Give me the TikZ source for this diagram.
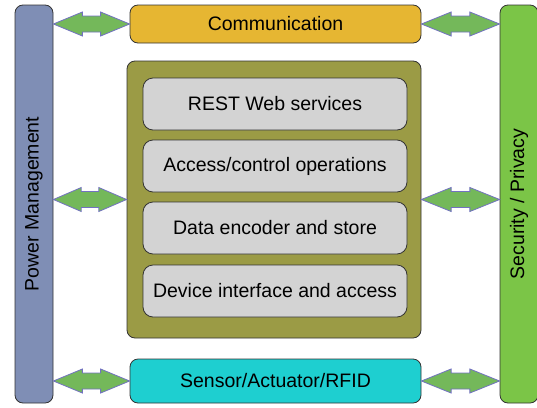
\documentclass[tikz,border=0pt]{standalone}
\usepackage{fontspec}
\setmainfont{Liberation Sans}
\usepackage{xcolor}
\usetikzlibrary{calc}

\definecolor{powerblue}{HTML}{7F8EB5}
\definecolor{commgold}{HTML}{E6B632}
\definecolor{coreolive}{HTML}{9B9B45}
\definecolor{layergray}{HTML}{D3D3D3}
\definecolor{securegreen}{HTML}{7BC547}
\definecolor{sensorcyan}{HTML}{1ECFD0}
\definecolor{linkfill}{HTML}{74B85A}
\definecolor{linkedge}{HTML}{7272C0}

% double headed link between two points at the same height
\newcommand{\linkarrow}[2]{%
  \path[linkarr] let \p1=(#1), \p2=(#2), \n1={0.38*(\x2-\x1)} in
    (\p1) -- (\x1+\n1,\y1+12pt) -- (\x1+\n1,\y1+8pt) -- (\x2-\n1,\y1+8pt)
    -- (\x2-\n1,\y1+12pt) -- (\p2) -- (\x2-\n1,\y1-12pt) -- (\x2-\n1,\y1-8pt)
    -- (\x1+\n1,\y1-8pt) -- (\x1+\n1,\y1-12pt) -- cycle;}

\begin{document}
\begin{tikzpicture}[x=1pt, y=-1pt,
    box/.style={draw=black!80, line width=0.8pt, rounded corners=8pt, inner sep=0pt},
    layer/.style={box, fill=layergray, rounded corners=10pt,
      minimum width=264, minimum height=52},
    label/.style={font=\fontsize{19.5}{23}\selectfont},
    linkarr/.style={fill=linkfill, draw=linkedge, line width=0.8pt, line join=miter}]
    \useasboundingbox (0,0) rectangle (537,407);

    % Side bars
    \node[box, fill=powerblue, minimum width=38, minimum height=398] (pm) at (34,204) {};
    \node[label, rotate=90] (pmtext) at (pm.center) {Power Management};
    \node[box, fill=securegreen, minimum width=38, minimum height=398] (sp) at (519,204) {};
    \node[label, rotate=90] (sptext) at (sp.center) {Security / Privacy};

    % Top and bottom boxes
    \node[box, label, fill=commgold, minimum width=291, minimum height=38] (comm) at (275.5,24) {Communication};
    \node[box, label, fill=sensorcyan, minimum width=291, minimum height=44] (sensor) at (275.5,381) {Sensor/Actuator/RFID};

    % Core with its layers
    \node[box, fill=coreolive, minimum width=294, minimum height=277] (core) at (274,199.5) {};
    \node[layer, label] (rest) at (275,104) {REST Web services};
    \node[layer, label] (access) at (275,166) {Access/control operations};
    \node[layer, label] (data) at (275,228) {Data encoder and store};
    \node[layer, label] (device) at (275,291) {Device interface and access};

    % Links
    \linkarrow{pm.east |- comm.west}{comm.west}
    \linkarrow{comm.east}{sp.west |- comm.east}
    \linkarrow{pm.east |- core.west}{core.west}
    \linkarrow{core.east}{sp.west |- core.east}
    \linkarrow{pm.east |- sensor.west}{sensor.west}
    \linkarrow{sensor.east}{sp.west |- sensor.east}
\end{tikzpicture}
\end{document}
